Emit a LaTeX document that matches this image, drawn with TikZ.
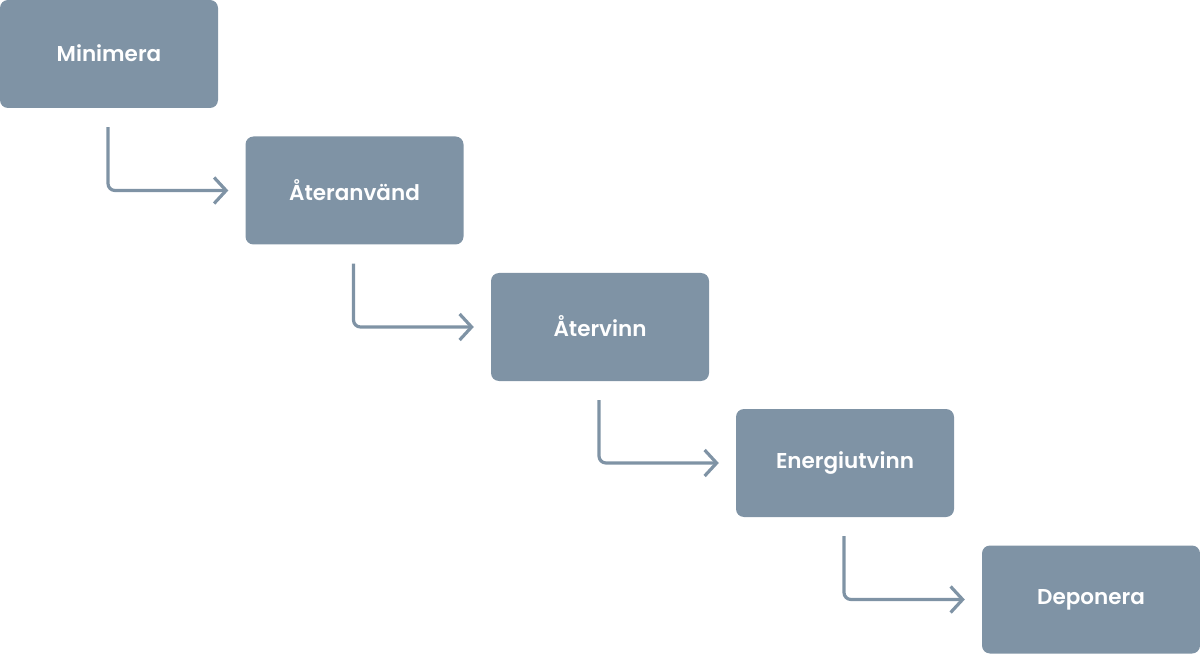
\documentclass[tikz,border=0pt]{standalone}
\usepackage{fontspec}
\setmainfont{Poppins}[BoldFont={Poppins SemiBold}]
\usetikzlibrary{arrows.meta}
\definecolor{boxc}{HTML}{7F93A5}
\begin{document}
\begin{tikzpicture}[x=1pt,y=-1pt,
  stepbox/.style={fill=boxc,rounded corners=8pt,minimum width=218pt,minimum height=108pt,inner sep=0pt,text=white,font=\fontsize{21.5}{24}\selectfont\bfseries},
  flow/.style={draw=boxc,line width=3.2pt,rounded corners=7pt,-{Straight Barb[length=12pt,width=26pt,line width=3.2pt]}}]
\useasboundingbox (0,0) rectangle (1200,655);
\node[stepbox] (b1) at (109,54) {\raisebox{1.5pt}{Minimera}};
\node[stepbox] (b2) at (354.5,190.5) {\raisebox{1.5pt}{Återanvänd}};
\node[stepbox] (b3) at (600,327) {\raisebox{1.5pt}{Återvinn}};
\node[stepbox] (b4) at (845,463) {\raisebox{1.5pt}{Energiutvinn}};
\node[stepbox] (b5) at (1091,599.5) {\raisebox{1.5pt}{Deponera}};
\foreach \a/\b in {b1/b2,b2/b3,b3/b4,b4/b5}{
  \draw[flow] ([xshift=-1pt,yshift=-19pt]\a.south) |- ([xshift=-17pt]\b.west);
}
\end{tikzpicture}
\end{document}
